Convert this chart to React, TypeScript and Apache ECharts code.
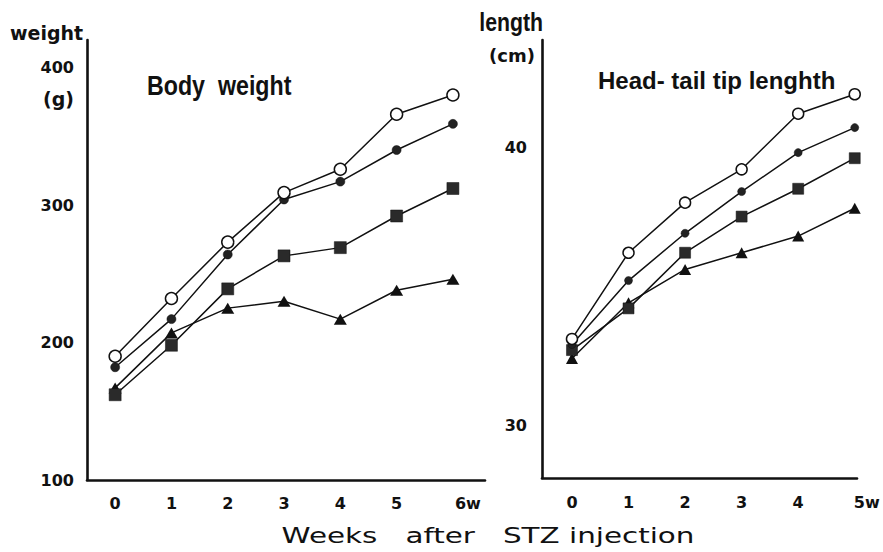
import React, { useEffect, useRef } from "react";
import * as echarts from "echarts";

// ---- data ----
const weeksBW = [0, 1, 2, 3, 4, 5, 6];
const bwOpen = [190, 232, 273, 309, 326, 366, 380];
const bwFilled = [182, 217, 264, 304, 317, 340, 359];
const bwSquare = [162, 198, 239, 263, 269, 292, 312];
const bwTriangle = [167, 207, 225, 230, 217, 238, 246];

const weeksLen = [0, 1, 2, 3, 4, 5];
const lenOpen = [33.1, 36.2, 38.0, 39.2, 41.2, 41.9];
const lenFilled = [32.9, 35.2, 36.9, 38.4, 39.8, 40.7];
const lenSquare = [32.7, 34.2, 36.2, 37.5, 38.5, 39.6];
const lenTriangle = [32.4, 34.4, 35.6, 36.2, 36.8, 37.8];

const bwTicks = [100, 200, 300, 400];
const lenTicks = [30, 40];

const INK = "#111";
const SANS = "'Liberation Sans', Arial, sans-serif";
const WIDE = "'DejaVu Sans', sans-serif";

const pairs = (xs: number[], ys: number[]) => xs.map((x, i) => [x, ys[i]]);

type Mk = "open" | "filled" | "square" | "triangle";
const mkSeries = (name: string, idx: number, xs: number[], ys: number[], mk: Mk, small: boolean) => {
  const base: any = {
    name,
    type: "line",
    xAxisIndex: idx,
    yAxisIndex: idx,
    data: pairs(xs, ys),
    lineStyle: { color: INK, width: 1.5 },
    showSymbol: true,
    symbolKeepAspect: true,
  };
  if (mk === "open") {
    base.symbol = "circle";
    base.symbolSize = small ? 11 : 12;
    base.itemStyle = { color: "#fff", borderColor: INK, borderWidth: 1.5 };
    base.z = 5;
  } else if (mk === "filled") {
    base.symbol = "circle";
    base.symbolSize = small ? 8 : 9;
    base.itemStyle = { color: "#222", borderColor: INK, borderWidth: 0.5 };
    base.z = 4;
  } else if (mk === "square") {
    base.symbol = "rect";
    base.symbolSize = small ? 11 : 12;
    base.itemStyle = { color: "#2a2a2a", borderColor: INK, borderWidth: 0.5 };
    base.z = 3;
  } else {
    base.symbol = "triangle";
    base.symbolSize = small ? [12, 11] : [13, 11];
    base.itemStyle = { color: INK };
    base.z = 3;
  }
  return base;
};

const axisLineStyle = { show: true, onZero: false, lineStyle: { color: INK, width: 2.6 } };
const tickFont = { color: INK, fontFamily: WIDE, fontWeight: "bold", fontSize: 16 };

export default function App() {
  const ref = useRef<HTMLDivElement>(null);

  useEffect(() => {
    if (!ref.current) return;
    const chart = echarts.init(ref.current, undefined, { renderer: "svg" });
    const option: any = {
      animation: false,
      backgroundColor: "#fff",
      grid: [
        { left: 87, right: 398, top: 40, bottom: 72 },
        { left: 542, right: 26, top: 40, bottom: 74 },
      ],
      xAxis: [
        {
          type: "value",
          gridIndex: 0,
          min: -0.5,
          max: 6.57,
          axisLine: axisLineStyle,
          axisTick: { show: false },
          splitLine: { show: false },
          axisLabel: {
            customValues: weeksBW,
            margin: 15,
            ...tickFont,
            formatter: (v: number) => (v === 6 ? "{w|6w}" : String(v)),
            rich: { w: { padding: [0, 0, 0, 30], ...tickFont } },
          },
        },
        {
          type: "value",
          gridIndex: 1,
          min: -0.53,
          max: 5.04,
          axisLine: axisLineStyle,
          axisTick: { show: false },
          splitLine: { show: false },
          axisLabel: {
            customValues: weeksLen,
            margin: 16,
            ...tickFont,
            formatter: (v: number) => (v === 5 ? "{w|5w}" : String(v)),
            rich: { w: { padding: [0, 0, 0, 24], ...tickFont } },
          },
        },
      ],
      yAxis: [
        {
          type: "value",
          gridIndex: 0,
          min: 100,
          max: 420,
          axisLine: axisLineStyle,
          axisTick: { show: false },
          splitLine: { show: false },
          axisLabel: {
            customValues: bwTicks,
            margin: 13,
            color: INK,
            fontFamily: WIDE,
            fontWeight: "bold",
            fontSize: 16,
          },
        },
        {
          type: "value",
          gridIndex: 1,
          min: 28.1,
          max: 43.85,
          axisLine: axisLineStyle,
          axisTick: { show: false },
          splitLine: { show: false },
          axisLabel: {
            customValues: lenTicks,
            margin: 15,
            color: INK,
            fontFamily: WIDE,
            fontWeight: "bold",
            fontSize: 16,
          },
        },
      ],
      series: [
        mkSeries("BW triangle", 0, weeksBW, bwTriangle, "triangle", false),
        mkSeries("BW square", 0, weeksBW, bwSquare, "square", false),
        mkSeries("BW filled", 0, weeksBW, bwFilled, "filled", false),
        mkSeries("BW open", 0, weeksBW, bwOpen, "open", false),
        mkSeries("Len triangle", 1, weeksLen, lenTriangle, "triangle", true),
        mkSeries("Len square", 1, weeksLen, lenSquare, "square", true),
        mkSeries("Len filled", 1, weeksLen, lenFilled, "filled", true),
        mkSeries("Len open", 1, weeksLen, lenOpen, "open", true),
      ],
      graphic: [
        {
          type: "text",
          x: 10,
          y: 33,
          style: { text: "weight", fill: INK, font: `bold 19px ${WIDE}`, textAlign: "left", textVerticalAlign: "middle" },
        },
        {
          type: "text",
          x: 74,
          y: 99,
          style: { text: "(g)", fill: INK, font: `bold 19px ${WIDE}`, textAlign: "right", textVerticalAlign: "middle" },
        },
        {
          type: "text",
          x: 147,
          y: 85,
          scaleX: 0.86,
          style: { text: "Body  weight", fill: INK, font: `bold 27px ${SANS}`, textAlign: "left", textVerticalAlign: "middle" },
        },
        {
          type: "text",
          x: 543,
          y: 22,
          scaleX: 0.85,
          style: { text: "length", fill: INK, font: `bold 25px ${SANS}`, textAlign: "right", textVerticalAlign: "middle" },
        },
        {
          type: "text",
          x: 535,
          y: 55,
          style: { text: "(cm)", fill: INK, font: `bold 18px ${WIDE}`, textAlign: "right", textVerticalAlign: "middle" },
        },
        {
          type: "text",
          x: 598,
          y: 80,
          scaleX: 1.0,
          style: { text: "Head- tail tip lenghth", fill: INK, font: `bold 24px ${SANS}`, textAlign: "left", textVerticalAlign: "middle" },
        },
        {
          type: "text",
          x: 488,
          y: 536,
          scaleX: 1.4,
          style: { text: "Weeks   after   STZ injection", fill: INK, font: `21px ${WIDE}`, textAlign: "center", textVerticalAlign: "middle" },
        },
      ],
    };
    chart.setOption(option);
    return () => chart.dispose();
  }, []);

  return (
    <div
      ref={ref}
      style={{ position: "fixed", left: 0, top: 0, width: 883, height: 552, background: "#fff" }}
    />
  );
}
